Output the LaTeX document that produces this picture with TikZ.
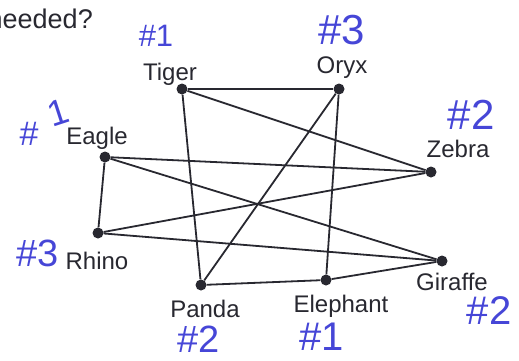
\documentclass[tikz,border=0pt]{standalone}
\usepackage{fontspec}
\setmainfont{Liberation Sans}
\definecolor{ink}{RGB}{40,40,48}
\definecolor{pen}{RGB}{70,70,215}
\begin{document}
\begin{tikzpicture}[x=1pt,y=-1pt,
  vert/.style={circle,fill=ink,inner sep=0pt,minimum size=11pt},
  lbl/.style={anchor=base,inner sep=0pt,text=ink,font=\fontsize{24}{24}\selectfont},
  hw/.style={anchor=base,inner sep=0pt,text=pen,font=\fontsize{#1}{#1}\selectfont},
  edge/.style={draw=ink,line width=1.8pt}]
\useasboundingbox (0,0) rectangle (519,360);
% question text (cut at the left edge)
\node[anchor=base east,inner sep=0pt,text=ink,font=\fontsize{27}{27}\selectfont] (q) at (93,28) {needed?};
% vertices
\node[vert] (tiger) at (182,89) {};
\node[vert] (oryx) at (339,89) {};
\node[vert] (eagle) at (105,157) {};
\node[vert] (zebra) at (431,172) {};
\node[vert] (rhino) at (98,233) {};
\node[vert] (giraffe) at (442,261) {};
\node[vert] (panda) at (201,285) {};
\node[vert] (elephant) at (326,280) {};
% edges
\draw[edge] (tiger) -- (oryx);
\draw[edge] (tiger) -- (panda);
\draw[edge] (tiger) -- (zebra);
\draw[edge] (oryx) -- (panda);
\draw[edge] (oryx) -- (elephant);
\draw[edge] (eagle) -- (zebra);
\draw[edge] (eagle) -- (giraffe);
\draw[edge] (eagle) -- (rhino);
\draw[edge] (rhino) -- (zebra);
\draw[edge] (rhino) -- (giraffe);
\draw[edge] (panda) -- (elephant);
\draw[edge] (elephant) -- (giraffe);
% labels
\node[lbl] (ltiger) at (170,80) {Tiger};
\node[lbl] (loryx) at (342,73) {Oryx};
\node[lbl] (leagle) at (97,144) {Eagle};
\node[lbl] (lzebra) at (458,157) {Zebra};
\node[lbl] (lrhino) at (97,269) {Rhino};
\node[lbl] (lpanda) at (205,317) {Panda};
\node[lbl] (lelephant) at (341,312) {Elephant};
\node[lbl] (lgiraffe) at (452,290) {Giraffe};
% handwritten annotations
\node[hw=31] (htiger) at (156,46) {\#1};
\node[hw=42] (horyx) at (342,44) {\#3};
\node[hw=34] (heagle1) at (29,145) {\#};
\node[hw=36,rotate=18] (heagle2) at (62,124) {1};
\node[hw=42] (hzebra) at (471,129) {\#2};
\node[hw=38] (hrhino) at (38,266) {\#3};
\node[hw=38] (hpanda) at (199,352) {\#2};
\node[hw=40] (helephant) at (322,350) {\#1};
\node[hw=40] (hgiraffe) at (489,324) {\#2};
\end{tikzpicture}
\end{document}
